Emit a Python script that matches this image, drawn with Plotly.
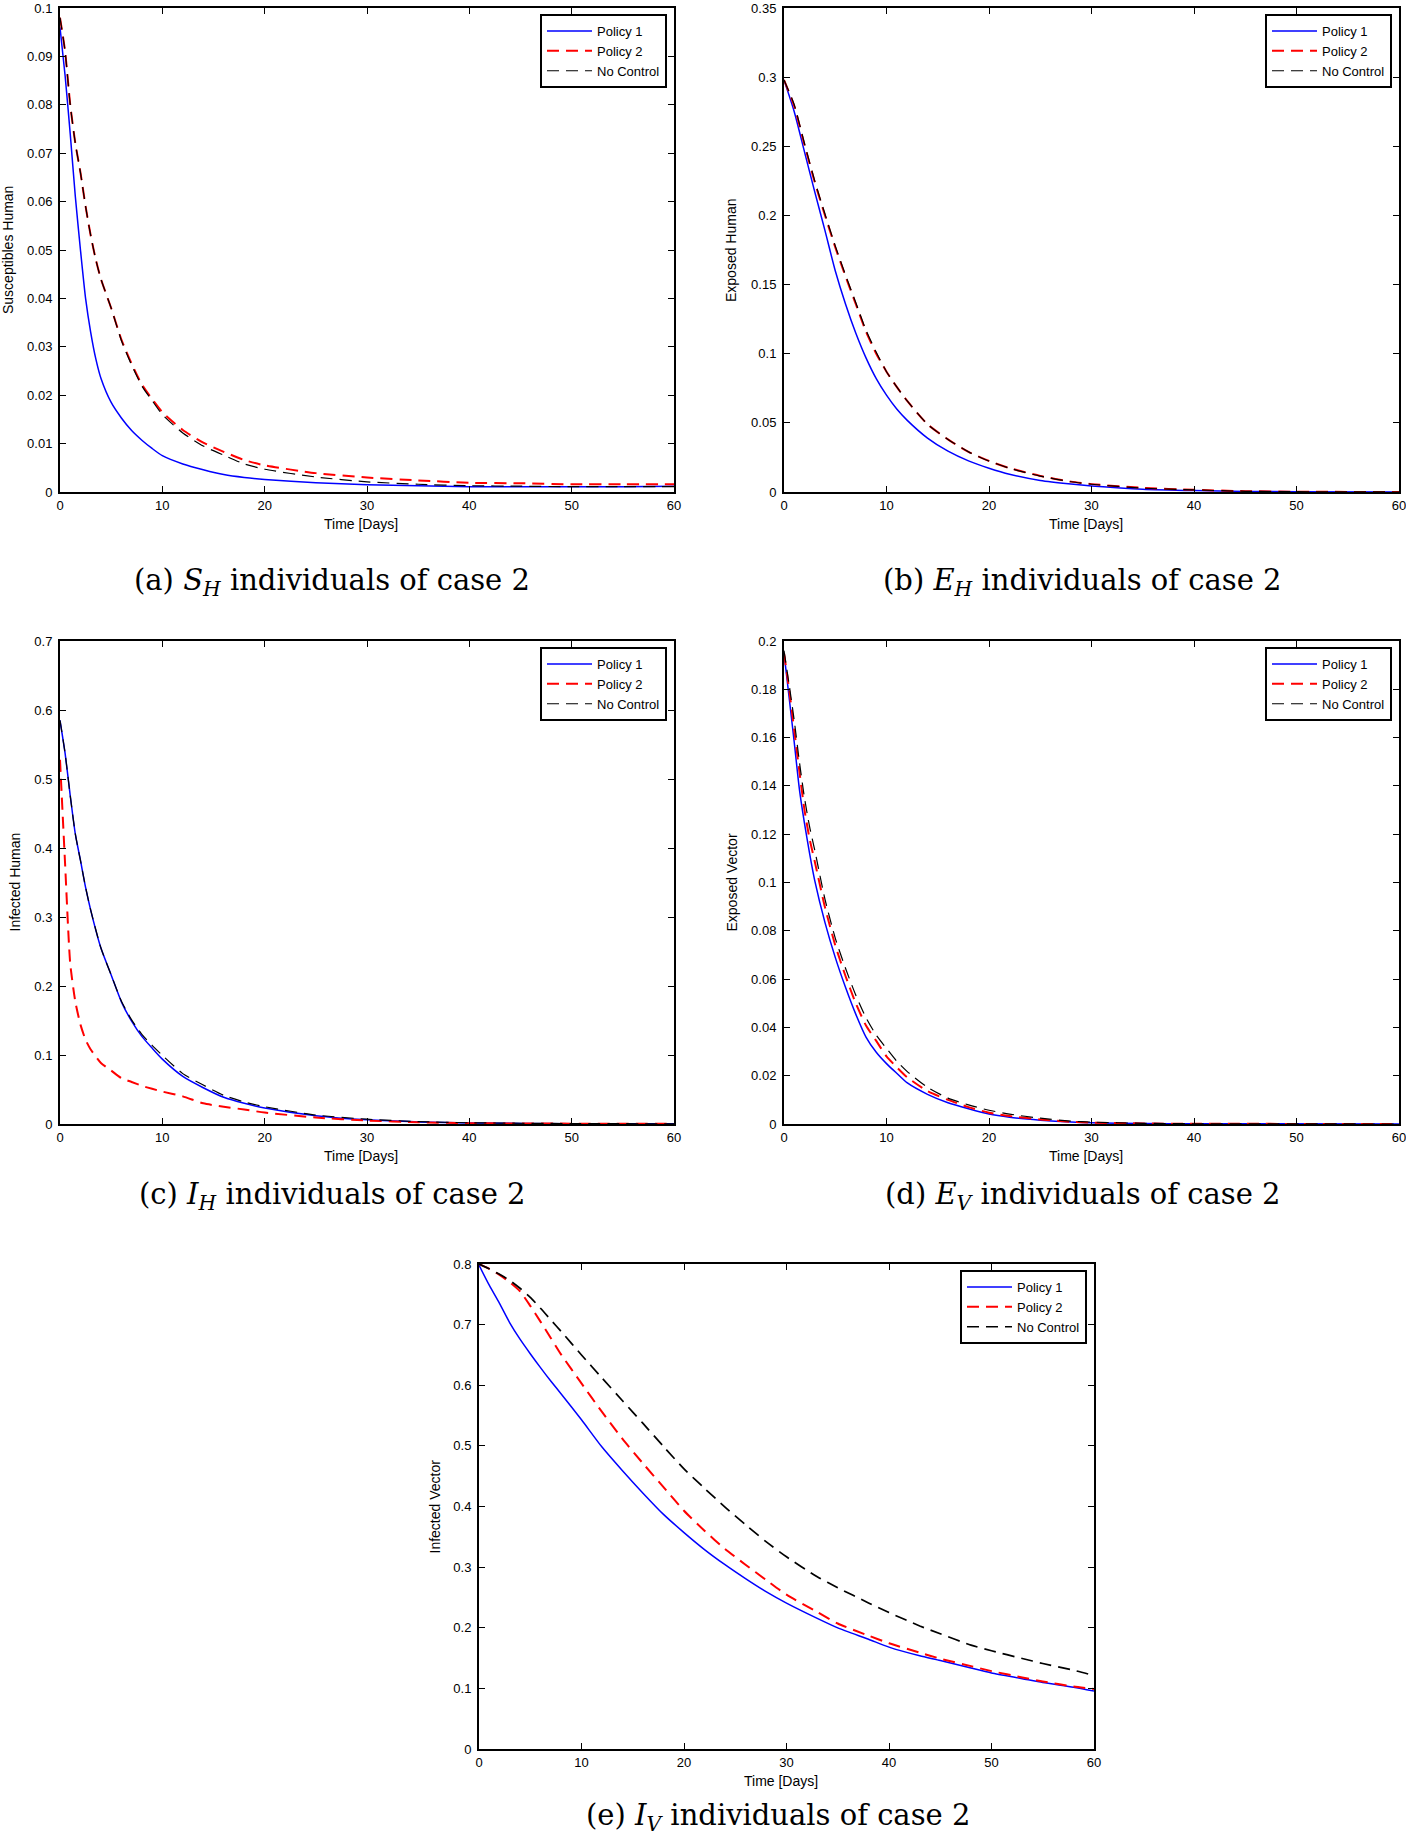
import plotly.graph_objects as go

W, H = 1406, 1838

# ---------------- data ----------------
series_names = ["Policy 1", "Policy 2", "No Control"]

# (a) Susceptibles Human
t_a = [0, 0.5, 1, 1.5, 2, 2.5, 3, 3.5, 4, 5, 6, 7, 8, 9, 10, 12, 14, 16, 18, 20, 25, 30, 35, 40, 45, 50, 55, 60]
sh_p1 = [0.096, 0.086, 0.074, 0.061, 0.050, 0.040, 0.033, 0.0275, 0.0235, 0.0185, 0.0153, 0.0127, 0.0107, 0.0090, 0.0075,
         0.0058, 0.0046, 0.0036, 0.0030, 0.0026, 0.0019, 0.0015, 0.0013, 0.0011, 0.0011, 0.0011, 0.0011, 0.0012]
sh_p2 = [0.098, 0.091, 0.080, 0.072, 0.066, 0.059, 0.053, 0.048, 0.044, 0.038, 0.0315, 0.0265, 0.0222, 0.0192, 0.0165,
         0.0128, 0.0102, 0.0083, 0.0066, 0.0055, 0.0039, 0.0030, 0.0024, 0.0019, 0.0018, 0.0016, 0.0016, 0.0016]
sh_nc = [0.098, 0.091, 0.080, 0.072, 0.066, 0.059, 0.053, 0.048, 0.044, 0.038, 0.0313, 0.0262, 0.0219, 0.0189, 0.0160,
         0.0122, 0.0095, 0.0076, 0.0058, 0.0047, 0.0031, 0.0021, 0.0016, 0.0013, 0.0012, 0.0011, 0.0011, 0.0011]

# (b) Exposed Human
t_b = [0, 1, 2, 3, 4, 5, 6, 7, 8, 9, 10, 11, 12, 14, 16, 18, 20, 22, 25, 28, 30, 35, 40, 45, 50, 60]
eh_p1 = [0.298, 0.275, 0.246, 0.217, 0.189, 0.160, 0.136, 0.115, 0.097, 0.082, 0.070, 0.060, 0.052, 0.039, 0.0295,
         0.0225, 0.0172, 0.0128, 0.0083, 0.0057, 0.0044, 0.0020, 0.0010, 0.0004, 0.0002, 0.0]
eh_p2 = [0.298, 0.279, 0.251, 0.224, 0.200, 0.177, 0.156, 0.136, 0.116, 0.100, 0.087, 0.076, 0.066, 0.049, 0.038,
         0.029, 0.0224, 0.0173, 0.0116, 0.0075, 0.0057, 0.0030, 0.0016, 0.0006, 0.0002, 0.0]
eh_nc = [0.298, 0.280, 0.252, 0.225, 0.201, 0.178, 0.157, 0.137, 0.117, 0.101, 0.087, 0.076, 0.066, 0.049, 0.038,
         0.029, 0.0224, 0.0172, 0.0115, 0.0074, 0.0056, 0.0028, 0.0015, 0.0005, 0.0002, 0.0]

# (c) Infected Human
t_c = [0, 0.5, 1, 1.5, 2, 2.5, 3, 4, 5, 6, 7, 8, 9, 10, 12, 14, 16, 18, 20, 25, 30, 35, 40, 50, 60]
ih_p1 = [0.585, 0.537, 0.476, 0.420, 0.382, 0.343, 0.310, 0.255, 0.216, 0.177, 0.149, 0.127, 0.110, 0.094, 0.069,
         0.0526, 0.0387, 0.030, 0.0232, 0.012, 0.006, 0.003, 0.0015, 0.0005, 0.0003]
ih_p2 = [0.528, 0.376, 0.2325, 0.177, 0.144, 0.122, 0.108, 0.0885, 0.0775, 0.0664, 0.0609, 0.0553, 0.051, 0.047, 0.040,
         0.030, 0.025, 0.021, 0.0166, 0.0094, 0.005, 0.0025, 0.0012, 0.0005, 0.0003]
ih_nc = [0.585, 0.537, 0.476, 0.420, 0.382, 0.343, 0.310, 0.255, 0.216, 0.178, 0.151, 0.130, 0.114, 0.0996, 0.073,
         0.0564, 0.0415, 0.032, 0.025, 0.013, 0.007, 0.0035, 0.0018, 0.0006, 0.0003]

# (d) Exposed Vector
t_d = [0, 0.5, 1, 1.5, 2, 2.5, 3, 4, 5, 6, 7, 8, 9, 10, 11, 12, 14, 16, 18, 20, 22, 25, 28, 30, 35, 40, 60]
ev_p1 = [0.195, 0.1766, 0.158, 0.1387, 0.1245, 0.112, 0.1008, 0.0834, 0.069, 0.0566, 0.0455, 0.036, 0.0297, 0.025,
         0.021, 0.0171, 0.0123, 0.0088, 0.0063, 0.0041, 0.0028, 0.0016, 0.0008, 0.0005, 0.0002, 0.0001, 0.0]
ev_p2 = [0.195, 0.180, 0.163, 0.146, 0.130, 0.118, 0.1087, 0.0897, 0.074, 0.0613, 0.050, 0.0408, 0.0344, 0.028,
         0.0235, 0.0194, 0.0136, 0.010, 0.007, 0.0047, 0.0033, 0.0019, 0.0009, 0.0006, 0.0002, 0.0001, 0.0]
ev_nc = [0.196, 0.182, 0.167, 0.150, 0.135, 0.123, 0.1134, 0.093, 0.077, 0.0645, 0.0534, 0.044, 0.0368, 0.0313,
         0.026, 0.0218, 0.0152, 0.0107, 0.0079, 0.0057, 0.0041, 0.0024, 0.0012, 0.0008, 0.0003, 0.0001, 0.0]

# (e) Infected Vector
t_e = [0, 1, 2, 3, 4, 5, 6, 7, 8, 10, 12, 14, 16, 18, 20, 22, 24, 26, 28, 30, 33, 35, 38, 40, 43, 45, 48, 50, 53, 55, 58, 60]
iv_p1 = [0.798, 0.765, 0.735, 0.703, 0.676, 0.652, 0.629, 0.607, 0.586, 0.543, 0.498, 0.459, 0.422, 0.387, 0.357,
         0.329, 0.304, 0.281, 0.2595, 0.2406, 0.2154, 0.1997, 0.181, 0.168, 0.1537, 0.146, 0.1335, 0.1254, 0.116,
         0.1096, 0.102, 0.0958]
iv_p2 = [0.800, 0.792, 0.782, 0.770, 0.755, 0.731, 0.705, 0.678, 0.651, 0.603, 0.556, 0.5115, 0.471, 0.432, 0.393,
         0.360, 0.330, 0.304, 0.279, 0.2545, 0.226, 0.207, 0.187, 0.1744, 0.159, 0.149, 0.1367, 0.1285, 0.118,
         0.1115, 0.103, 0.099]
iv_nc = [0.800, 0.792, 0.783, 0.773, 0.760, 0.745, 0.727, 0.708, 0.689, 0.650, 0.612, 0.5745, 0.537, 0.499, 0.462,
         0.430, 0.399, 0.370, 0.342, 0.317, 0.284, 0.266, 0.241, 0.225, 0.203, 0.190, 0.1713, 0.162, 0.1493,
         0.141, 0.130, 0.121]

x_ticks = [0, 10, 20, 30, 40, 50, 60]
y_ticks_a = [0, 0.01, 0.02, 0.03, 0.04, 0.05, 0.06, 0.07, 0.08, 0.09, 0.1]
y_text_a = ["0", "0.01", "0.02", "0.03", "0.04", "0.05", "0.06", "0.07", "0.08", "0.09", "0.1"]
y_ticks_b = [0, 0.05, 0.1, 0.15, 0.2, 0.25, 0.3, 0.35]
y_text_b = ["0", "0.05", "0.1", "0.15", "0.2", "0.25", "0.3", "0.35"]
y_ticks_c = [0, 0.1, 0.2, 0.3, 0.4, 0.5, 0.6, 0.7]
y_text_c = ["0", "0.1", "0.2", "0.3", "0.4", "0.5", "0.6", "0.7"]
y_ticks_d = [0, 0.02, 0.04, 0.06, 0.08, 0.1, 0.12, 0.14, 0.16, 0.18, 0.2]
y_text_d = ["0", "0.02", "0.04", "0.06", "0.08", "0.1", "0.12", "0.14", "0.16", "0.18", "0.2"]
y_ticks_e = [0, 0.1, 0.2, 0.3, 0.4, 0.5, 0.6, 0.7, 0.8]
y_text_e = ["0", "0.1", "0.2", "0.3", "0.4", "0.5", "0.6", "0.7", "0.8"]

y_titles = ["Susceptibles Human", "Exposed Human", "Infected Human", "Exposed Vector", "Infected Vector"]
captions = ["(a) <i>S</i><sub><i>H</i></sub> individuals of case 2",
            "(b) <i>E</i><sub><i>H</i></sub> individuals of case 2",
            "(c) <i>I</i><sub><i>H</i></sub> individuals of case 2",
            "(d) <i>E</i><sub><i>V</i></sub> individuals of case 2",
            "(e) <i>I</i><sub><i>V</i></sub> individuals of case 2"]

# ---------------- layout geometry (page pixels) ----------------
panels = [
    dict(t=t_a, ys=[sh_p1, sh_p2, sh_nc], yt=y_ticks_a, ytt=y_text_a, ymax=0.1, box=(60, 674, 8, 492), ytx=8, cap=(332, 582), nc_w=1.2),
    dict(t=t_b, ys=[eh_p1, eh_p2, eh_nc], yt=y_ticks_b, ytt=y_text_b, ymax=0.35, box=(784, 1399, 8, 492), ytx=731, cap=(1082, 582), nc_w=1.2),
    dict(t=t_c, ys=[ih_p1, ih_p2, ih_nc], yt=y_ticks_c, ytt=y_text_c, ymax=0.7, box=(60, 674, 641, 1124), ytx=14, cap=(332, 1196), nc_w=1.2),
    dict(t=t_d, ys=[ev_p1, ev_p2, ev_nc], yt=y_ticks_d, ytt=y_text_d, ymax=0.2, box=(784, 1399, 641, 1124), ytx=731, cap=(1082, 1196), nc_w=1.2),
    dict(t=t_e, ys=[iv_p1, iv_p2, iv_nc], yt=y_ticks_e, ytt=y_text_e, ymax=0.8, box=(479, 1094, 1264, 1749), ytx=434, cap=(778, 1817), nc_w=1.7),
]

fig = go.Figure()
layout = dict(
    width=W, height=H,
    margin=dict(l=0, r=0, t=0, b=0, autoexpand=False),
    paper_bgcolor="white", plot_bgcolor="white",
    font=dict(family="Liberation Sans, Arial, sans-serif", size=13, color="black"),
    annotations=[],
)

def px_x(p):
    return p / W

def px_y(p):
    return 1 - p / H

for i, p in enumerate(panels):
    k = "" if i == 0 else str(i + 1)
    xa, ya = "x" + k, "y" + k
    lg = "legend" + k
    x0, x1, y0, y1 = p["box"]
    styles = [
        dict(color="#0000ff", width=1.5, dash="solid"),
        dict(color="#ff0000", width=2, dash="12px,7px"),
        dict(color="#000000", width=p["nc_w"], dash="12px,7px"),
    ]
    for j, name in enumerate(series_names):
        fig.add_trace(go.Scatter(
            x=p["t"], y=p["ys"][j], mode="lines", name=name,
            line=dict(shape="spline", smoothing=0.6, **styles[j]),
            xaxis=xa, yaxis=ya, legend=lg, showlegend=True,
        ))
    axis_common = dict(
        showline=True, linewidth=2, linecolor="black", mirror="ticks",
        ticks="inside", ticklen=6, tickwidth=1.3, tickcolor="black", automargin=False,
        showgrid=False, zeroline=False, tickfont=dict(size=13, color="black"),
        ticklabeloverflow="allow",
    )
    layout["xaxis" + k] = dict(domain=[px_x(x0), px_x(x1)], range=[0, 60], anchor=ya,
                              tickmode="array", tickvals=x_ticks, **axis_common)
    layout["yaxis" + k] = dict(domain=[px_y(y1), px_y(y0)], range=[0, p["ymax"]], anchor=xa,
                              tickmode="array", tickvals=p["yt"], ticktext=p["ytt"],
                              ticklabelstandoff=3, **axis_common)
    layout[lg] = dict(
        x=px_x(x1 - 7), y=px_y(y0 + 6), xanchor="right", yanchor="top",
        xref="paper", yref="paper",
        bgcolor="white", bordercolor="black", borderwidth=2,
        font=dict(size=13, color="black"), itemwidth=45, tracegroupgap=0,
    )
    layout["annotations"].append(dict(
        text=y_titles[i], x=px_x(p["ytx"]), y=px_y((y0 + y1) / 2), xref="paper", yref="paper",
        showarrow=False, textangle=-90, font=dict(size=14, color="black"),
        xanchor="center", yanchor="middle"))
    layout["annotations"].append(dict(
        text="Time [Days]", x=px_x((x0 + x1) / 2 - 6), y=px_y(y1 + 32), xref="paper", yref="paper",
        showarrow=False, font=dict(size=14, color="black"), xanchor="center", yanchor="middle"))
    layout["annotations"].append(dict(
        text=captions[i], x=px_x(p["cap"][0]), y=px_y(p["cap"][1]), xref="paper", yref="paper",
        showarrow=False, font=dict(family="DejaVu Serif, Liberation Serif, serif", size=29, color="black"),
        xanchor="center", yanchor="middle"))

fig.update_layout(**layout)
# remove the browser's default 8px body margin so the figure fills the window exactly
fig.write_html("out.html", config={"displayModeBar": False},
               post_script="document.body.style.margin='0';document.body.style.overflow='hidden';")
